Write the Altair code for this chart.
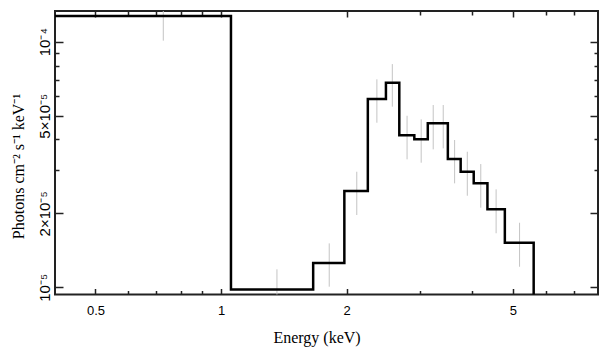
import math
import altair as alt
import pandas as pd

# ---- model (step histogram): left bin edges, last entry is the final edge ----
model_edges = [0.3, 1.056, 1.662, 1.974, 2.247, 2.483, 2.673, 2.904, 3.128,
               3.494, 3.75, 4.03, 4.347, 4.785, 5.61]
model_vals = [1.272e-4, 9.81e-6, 1.256e-5, 2.466e-5, 5.845e-5, 6.81e-5, 4.16e-5,
              4.005e-5, 4.654e-5, 3.33e-5, 2.956e-5, 2.651e-5, 2.078e-5, 1.519e-5,
              5.0e-6]

# ---- data error bars (vertical only) ----
err_energy = [0.727, 1.361, 1.816, 2.114, 2.362, 2.572, 2.790, 3.016, 3.223,
              3.406, 3.627, 3.89, 4.19, 4.56, 5.19]
err_lo = [1.01e-4, 8.0e-6, 1.006e-5, 1.97e-5, 4.68e-5, 5.44e-5, 3.32e-5, 3.217e-5,
          3.646e-5, 3.68e-5, 2.651e-5, 2.36e-5, 2.11e-5, 1.66e-5, 1.213e-5]
err_hi = [1.6e-4, 1.184e-5, 1.51e-5, 2.956e-5, 7.03e-5, 8.11e-5, 4.996e-5, 4.83e-5,
          5.525e-5, 5.525e-5, 3.98e-5, 3.566e-5, 3.177e-5, 2.506e-5, 1.832e-5]

# ---- ticks ----
x_major = [0.5, 1, 2, 5]
x_minor = [0.6, 0.7, 0.8, 0.9, 3, 4, 6, 7]
y_major = [1e-5, 2e-5, 5e-5, 1e-4]
y_major_labels = ["10⁻⁵", "2×10⁻⁵", "5×10⁻⁵", "10⁻⁴"]
y_minor = [3e-5, 4e-5, 6e-5, 7e-5, 8e-5, 9e-5]

x_domain = [0.4, 8.0]
y_domain = [9.35e-6, 1.334e-4]

W, H = 543, 283.5
XMAJ, XMIN, YMAJ, YMIN = 6, 4, 8, 4

model_df = pd.DataFrame({"e": model_edges, "v": model_vals})
err_df = pd.DataFrame({"e": err_energy, "lo": err_lo, "hi": err_hi})

ylab_expr = ""
for v, l in zip(y_major, y_major_labels):
    ylab_expr += f"abs(log(datum.value)/LN10 - ({math.log10(v):.4f})) < 0.01 ? '{l}' : "
ylab_expr += "''"

xs = alt.Scale(type="log", domain=x_domain, nice=False)
ys = alt.Scale(type="log", domain=y_domain, nice=False)

tick_common = dict(grid=False, domain=False, tickColor="#222", tickWidth=1.5)

# layer 1: model step line, carries labelled axes (bottom / left)
line = alt.Chart(model_df).mark_line(
    interpolate="step-after", color="black", strokeWidth=2.5, clip=True
).encode(
    x=alt.X("e:Q", scale=xs, axis=alt.Axis(
        orient="bottom", values=x_major, offset=-XMAJ, tickSize=XMAJ,
        labels=True, labelPadding=10, format="~g",
        labelFont="Liberation Sans", labelFontSize=13, labelColor="black",
        title="Energy (keV)", titleFont="Liberation Serif", titleFontSize=16,
        titleFontWeight="normal", titleColor="black",
        titleBaseline="alphabetic", titleY=53.5, titleX=261.5, titleAlign="center",
        **tick_common)),
    y=alt.Y("v:Q", scale=ys, axis=alt.Axis(
        orient="left", values=y_major, offset=-YMAJ, tickSize=YMAJ,
        labels=True, labelPadding=5.7, labelExpr=ylab_expr,
        labelAngle=270, labelAlign="center", labelBaseline="alphabetic",
        labelFont="Liberation Sans", labelFontSize=15, labelColor="black",
        title="Photons cm⁻² s⁻¹ keV⁻¹", titleFont="Liberation Serif",
        titleFontSize=16, titleFontWeight="normal", titleColor="black",
        titleAngle=270, titleBaseline="alphabetic", titleAlign="center",
        titleX=-40, titleY=155,
        **tick_common)),
)

# layer 2: error bars, carries minor ticks bottom / left
errs = alt.Chart(err_df).mark_rule(color="#c4c4c4", strokeWidth=1, clip=True).encode(
    x=alt.X("e:Q", scale=xs, axis=alt.Axis(
        orient="bottom", values=x_minor, offset=-XMIN, tickSize=XMIN,
        labels=False, title="", **tick_common)),
    y=alt.Y("lo:Q", scale=ys, axis=alt.Axis(
        orient="left", values=y_minor, offset=-YMIN, tickSize=YMIN,
        labels=False, title="", **tick_common)),
    y2="hi:Q",
)

# layer 3 / 4: invisible copies carrying mirrored ticks (top / right)
top_major = alt.Chart(err_df).mark_point(opacity=0).encode(
    x=alt.X("e:Q", scale=xs, axis=alt.Axis(
        orient="top", values=x_major, offset=-XMAJ, tickSize=XMAJ,
        labels=False, title="", **tick_common)),
    y=alt.Y("lo:Q", scale=ys, axis=alt.Axis(
        orient="right", values=y_major, offset=-YMAJ, tickSize=YMAJ,
        labels=False, title="", **tick_common)),
)
top_minor = alt.Chart(err_df).mark_point(opacity=0).encode(
    x=alt.X("e:Q", scale=xs, axis=alt.Axis(
        orient="top", values=x_minor, offset=-XMIN, tickSize=XMIN,
        labels=False, title="", **tick_common)),
    y=alt.Y("lo:Q", scale=ys, axis=alt.Axis(
        orient="right", values=y_minor, offset=-YMIN, tickSize=YMIN,
        labels=False, title="", **tick_common)),
)

chart = alt.layer(errs, line, top_major, top_minor).resolve_axis(
    x="independent", y="independent"
).properties(
    width=W, height=H,
    padding={"left": 47, "top": 3, "right": 2, "bottom": 55},
    autosize=alt.AutoSizeParams(type="none"),
    background="white",
).configure_view(stroke="#222", strokeWidth=2)

chart.save("out.html", embed_options={"renderer": "svg", "actions": False})
